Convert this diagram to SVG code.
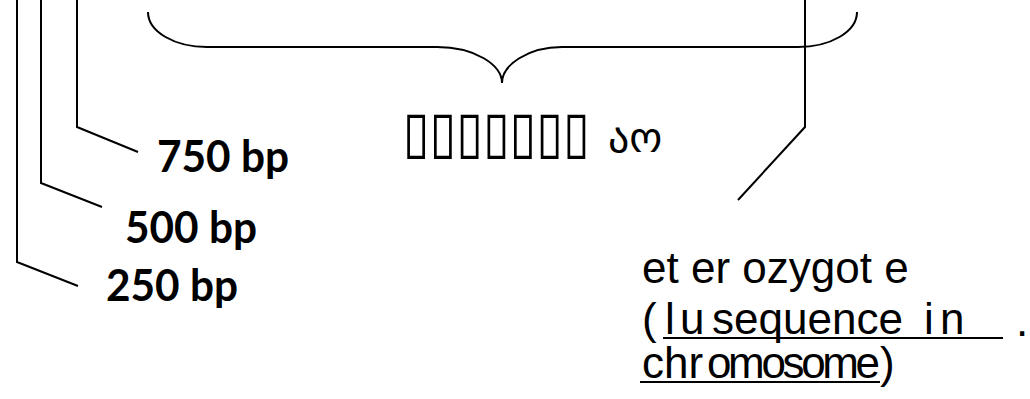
<svg xmlns="http://www.w3.org/2000/svg" width="1030" height="399" viewBox="0 0 1030 399">
<style>
.ln{fill:none;stroke:#000;stroke-width:2}
.bp{font-family:Lato,"Open Sans",sans-serif;font-weight:bold;font-size:43px;fill:#000}
.ar{font-family:"Liberation Sans",Arial,sans-serif;font-size:44px;fill:#000}
.mid{font-family:"DejaVu Sans",sans-serif;font-size:40px;fill:#000}
</style>
<rect width="1030" height="399" fill="#fff"/>
<g id="connectors">
<path class="ln" d="M17,0 V262 L78,286"/>
<path class="ln" d="M41,0 V183 L102,207"/>
<path class="ln" d="M77,0 V127 L138,152"/>
<path class="ln" d="M805,0 V127 L738,200"/>
</g>
<g id="brace">
<path class="ln" d="M148,12 C148,32 175,47 207,47 L437,47 C475,47 502,65 502,83 C502,65 528,47 562,47 L798,47 C830,47 857,32 857,12"/>
</g>
<g id="label-750"><text class="bp" x="157" y="172" textLength="132" lengthAdjust="spacingAndGlyphs">750 bp</text></g>
<g id="label-500"><text class="bp" x="125" y="243" textLength="132" lengthAdjust="spacingAndGlyphs">500 bp</text></g>
<g id="label-250"><text class="bp" x="106" y="301" textLength="132" lengthAdjust="spacingAndGlyphs">250 bp</text></g>
<g id="middle-label"><text class="mid" y="152"><tspan x="403" font-size="58" textLength="187" lengthAdjust="spacingAndGlyphs">▯▯▯▯▯▯▯</tspan><tspan x="608" font-size="42">აო</tspan></text></g>
<g id="heterozygote">
<text class="ar" x="642" y="283">et er ozygot e</text>
<text class="ar" y="334"><tspan x="642">(</tspan><tspan x="665">l</tspan><tspan x="680">u</tspan><tspan x="712" textLength="191" lengthAdjust="spacingAndGlyphs">sequence</tspan><tspan x="924">i</tspan><tspan x="940">n</tspan></text>
<text class="ar" x="1016" y="336" font-size="8">.</text>
<line class="ln" x1="663" y1="338" x2="1003" y2="338"/>
<text class="ar" y="378"><tspan x="642">chr</tspan><tspan x="707" textLength="173" lengthAdjust="spacing">omosome</tspan><tspan x="880">)</tspan></text>
<line class="ln" x1="640" y1="382" x2="880" y2="382"/>
</g>
</svg>
